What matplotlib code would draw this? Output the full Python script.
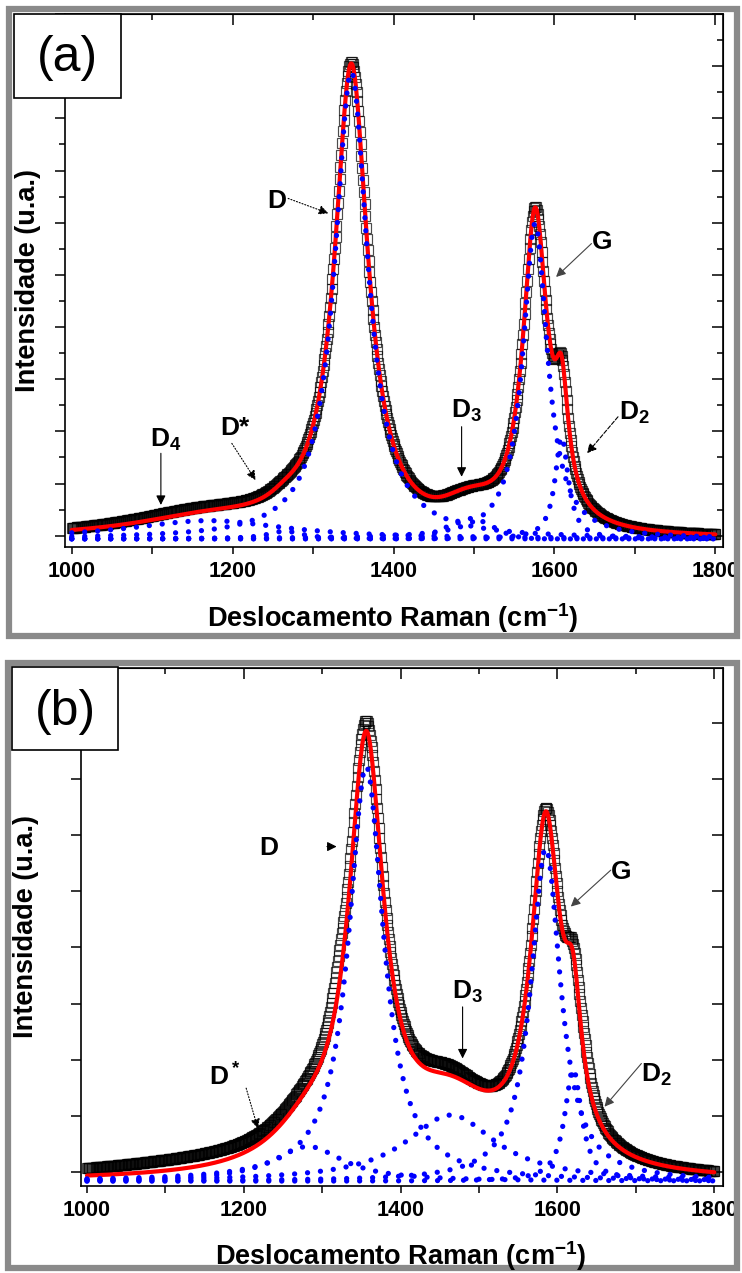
import numpy as np
import matplotlib
matplotlib.use('Agg')
import matplotlib.pyplot as plt
from matplotlib.patches import Rectangle
from matplotlib.ticker import MultipleLocator, NullFormatter

plt.rcParams['font.family'] = ['Liberation Sans', 'DejaVu Sans']
plt.rcParams['mathtext.fontset'] = 'custom'
plt.rcParams['mathtext.rm'] = 'Liberation Sans:bold'
plt.rcParams['mathtext.it'] = 'Liberation Sans:bold'
plt.rcParams['mathtext.bf'] = 'Liberation Sans:bold'

# ---------------- data ----------------
# Raman shift range of the measured spectra (cm-1), 1 cm-1 step
shift_start, shift_stop, shift_step = 1000, 1800, 1

# panel (a): fitted bands  (L = Lorentzian, G = Gaussian); width = HWHM (L) or sigma (G)
a_bands   = ['D4', 'D*', 'D', 'D3', 'G', 'D2']
a_shapes  = ['L', 'L', 'L', 'G', 'L', 'L']
a_centers = [1170, 1265, 1347.5, 1495, 1576, 1609]
a_heights = [0.70, 0.30, 17.9, 0.78, 12.1, 3.9]
a_widths  = [120, 25, 25, 28, 18.5, 10]
a_offset  = -0.12
# measured data minus fit (small misfit seen in the picture)
a_resid_centers = [1150]
a_resid_heights = [0.18]
a_resid_widths  = [130]

# panel (b)
b_bands   = ['D*', 'D', 'D3', 'G', 'D2']
b_shapes  = ['L', 'L', 'L', 'L', 'L']
b_centers = [1282, 1356, 1464, 1585, 1620]
b_heights = [0.62, 7.40, 1.18, 5.94, 2.0]
b_widths  = [55, 27, 70, 23, 13]
b_offset  = -0.17
b_resid_centers = [1150, 1322, 1450, 1634]
b_resid_heights = [0.20, 0.45, 0.12, 0.35]
b_resid_widths  = [200, 14, 40, 10]

x_ticks = [1000, 1200, 1400, 1600, 1800]


def band(x, shape, c, h, w):
    if shape == 'G':
        return h * np.exp(-0.5 * ((x - c) / w) ** 2)
    return h / (1.0 + ((x - c) / w) ** 2)


W, H = 742, 1273
fig = plt.figure(figsize=(W / 100, H / 100), dpi=100)
fig.patch.set_facecolor('white')


def fx(x):
    return x / W


def fy(y):
    return 1 - y / H


def make_panel(box, xlim, ylim, ymajor, yminor, shapes, centers, heights, widths,
               offset, rc, rh, rw):
    l, t, r, b = box
    ax = fig.add_axes([fx(l), fy(b), fx(r) - fx(l), fy(t) - fy(b)])
    x = np.arange(shift_start, shift_stop + shift_step, shift_step, dtype=float)
    comps = [offset + band(x, s, c, h, w) for s, c, h, w in zip(shapes, centers, heights, widths)]
    fit = offset + sum(band(x, s, c, h, w) for s, c, h, w in zip(shapes, centers, heights, widths))
    resid = sum(band(x, 'L', c, h, w) for c, h, w in zip(rc, rh, rw))
    data = fit + resid
    ax.plot(x, data, ls='none', marker='s', ms=7.0, mfc='none', mec='black',
            mew=0.85, alpha=0.7, zorder=2)
    ax.plot(x, fit, color='#ff0000', lw=3.0, zorder=3, solid_capstyle='round')
    for cy in comps:
        ax.plot(x, cy, color='#0000ff', lw=3.8, ls=(0, (0.01, 2.45)),
                dash_capstyle='round', zorder=4)
    ax.set_xlim(*xlim)
    ax.set_ylim(*ylim)
    ax.xaxis.set_major_locator(MultipleLocator(200))
    ax.xaxis.set_minor_locator(MultipleLocator(100))
    ax.yaxis.set_major_locator(MultipleLocator(ymajor))
    if yminor:
        ax.yaxis.set_minor_locator(MultipleLocator(yminor))
    ax.set_xticks(x_ticks)
    ax.tick_params(axis='x', which='both', direction='out', top=False, bottom=True,
                   length=5, width=1.1, pad=5, labelsize=15.5)
    ax.tick_params(axis='y', which='major', direction='out', right=False, left=True,
                   length=7.5, width=1.1, labelleft=False)
    ax.tick_params(axis='y', which='minor', direction='out', right=False, left=True,
                   length=4, width=1.1)
    for lab in ax.get_xticklabels():
        lab.set_fontweight('bold')
    for sp in ax.spines.values():
        sp.set_linewidth(1.2)
    sx = ax.secondary_xaxis('top')
    sx.xaxis.set_major_locator(MultipleLocator(200))
    sx.xaxis.set_minor_locator(MultipleLocator(100))
    sx.xaxis.set_major_formatter(NullFormatter())
    sx.tick_params(which='major', direction='in', length=8, width=1.1)
    sx.tick_params(which='minor', direction='in', length=4, width=1.1)
    sy = ax.secondary_yaxis('right')
    sy.yaxis.set_major_locator(MultipleLocator(ymajor))
    if yminor:
        sy.yaxis.set_minor_locator(MultipleLocator(yminor))
    sy.yaxis.set_major_formatter(NullFormatter())
    sy.tick_params(which='major', direction='in', length=8, width=1.1)
    sy.tick_params(which='minor', direction='in', length=4, width=1.1)
    return ax


ann_kw = dict(fontsize=19, fontweight='bold', color='black')


def arrow(ax, tail, head, ls='-', color='black', lw=0.8):
    ax.annotate('', xy=head, xytext=tail,
                arrowprops=dict(arrowstyle='-|>', mutation_scale=14, lw=lw,
                                linestyle=ls, color=color, shrinkA=0, shrinkB=0),
                zorder=6)


# ---------------- panel (a) ----------------
fig.patches.append(Rectangle((fx(9), fy(636)), fx(737) - fx(9), fy(9) - fy(636),
                             transform=fig.transFigure, fill=False,
                             edgecolor='#8a8a8a', lw=4.5, zorder=0))
axa = make_panel((65.3, 14, 722.6, 546.7), (992, 1809), (-0.42, 20.0), 2, 1,
                 a_shapes, a_centers, a_heights, a_widths, a_offset,
                 a_resid_centers, a_resid_heights, a_resid_widths)
axa.text(1243, 12.55, 'D', **ann_kw)
arrow(axa, (1269, 12.93), (1319, 12.36), ls=':')
axa.text(1646, 11.0, 'G', **ann_kw)
arrow(axa, (1646, 11.2), (1602, 9.92), color='#444444')
axa.text(1680, 4.43, r'D$_2$', **ann_kw)
arrow(axa, (1679, 4.56), (1640.5, 3.16), ls='--')
axa.text(1471, 4.51, r'D$_3$', **ann_kw)
arrow(axa, (1484.6, 4.18), (1484.6, 2.26))
axa.text(1185, 3.86, 'D*', **ann_kw)
arrow(axa, (1199, 3.54), (1228.6, 2.13), ls=':')
axa.text(1097, 3.41, r'D$_4$', **ann_kw)
arrow(axa, (1110.8, 3.16), (1110.8, 1.18))

fig.text(fx(393), fy(618), r'Deslocamento Raman (cm$^{-1}$)', ha='center', va='center',
         fontsize=19.5, fontweight='bold')
fig.text(fx(28), fy(280), 'Intensidade (u.a.)', ha='center', va='center',
         rotation=90, fontsize=19.5, fontweight='bold')
fig.patches.append(Rectangle((fx(14), fy(97.7)), fx(121) - fx(14), fy(14) - fy(97.7),
                             transform=fig.transFigure, facecolor='white',
                             edgecolor='black', lw=1.2, zorder=5))
fig.text(fx(67.5), fy(58), '(a)', ha='center', va='center', fontsize=36, zorder=6)

# ---------------- panel (b) ----------------
fig.patches.append(Rectangle((fx(8), fy(1268)), fx(737) - fx(8), fy(663) - fy(1268),
                             transform=fig.transFigure, fill=False,
                             edgecolor='#8a8a8a', lw=4.5, zorder=0))
axb = make_panel((80.7, 668.3, 722.7, 1186), (992, 1810.7), (-0.255, 8.98), 1, None,
                 b_shapes, b_centers, b_heights, b_widths, b_offset,
                 b_resid_centers, b_resid_heights, b_resid_widths)
axb.text(1220, 5.65, 'D', **ann_kw)
arrow(axb, (1306, 5.8), (1318.4, 5.8))
axb.text(1668, 5.23, 'G', **ann_kw)
arrow(axb, (1668, 5.38), (1617, 4.73), color='#444444')
axb.text(1465, 3.09, r'D$_3$', **ann_kw)
arrow(axb, (1479, 2.94), (1479, 2.02))
axb.text(1707, 1.61, r'D$_2$', **ann_kw)
arrow(axb, (1707, 1.93), (1660, 1.16), color='#444444')
axb.text(1156, 1.53, r'D$^*$', **ann_kw)
arrow(axb, (1203, 1.49), (1218, 0.77), ls=':')

fig.text(fx(401), fy(1256), r'Deslocamento Raman (cm$^{-1}$)', ha='center', va='center',
         fontsize=19.5, fontweight='bold')
fig.text(fx(26), fy(927), 'Intensidade (u.a.)', ha='center', va='center',
         rotation=90, fontsize=19.5, fontweight='bold')
fig.patches.append(Rectangle((fx(11.7), fy(750)), fx(118.3) - fx(11.7), fy(666.7) - fy(750),
                             transform=fig.transFigure, facecolor='white',
                             edgecolor='black', lw=1.2, zorder=5))
fig.text(fx(65.8), fy(712), '(b)', ha='center', va='center', fontsize=36, zorder=6)

fig.savefig('out.png', dpi=100, facecolor='white')
